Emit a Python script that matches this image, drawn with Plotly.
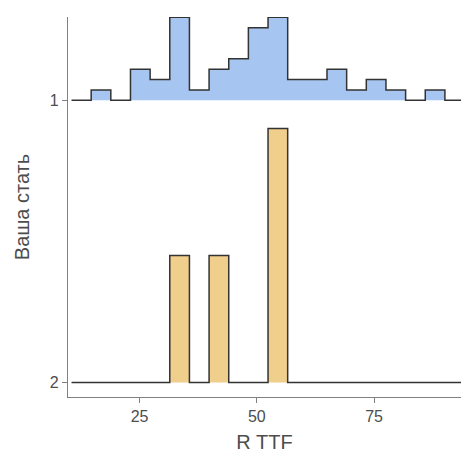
import plotly.graph_objects as go
import numpy as np

# Data
bin_start = 10.5
bin_width = 4.19
groups = ["1", "2"]
counts_1 = [0, 1, 0, 3, 2, 8, 1, 3, 4, 7, 8, 2, 2, 3, 1, 2, 1, 0, 1, 0, 0]
counts_2 = [0, 0, 0, 0, 0, 1, 0, 1, 0, 0, 2, 0, 0, 0, 0, 0, 0, 0, 0, 0, 0]
x_ticks = [25, 50, 75]

fills = {"1": "#A6C5F0", "2": "#F0CE8C"}
baselines = {"1": 1.0, "2": 0.0}
all_counts = {"1": counts_1, "2": counts_2}

nb = len(counts_1)
edges = bin_start + bin_width * np.arange(nb + 1)
dens = {g: np.array(c, float) / (sum(c) * bin_width) for g, c in all_counts.items()}
scale = 0.9 / max(d.max() for d in dens.values())

fig = go.Figure()
for g in groups:
    h = baselines[g] + dens[g] * scale
    xs, ys = [], []
    for i in range(nb):
        xs += [edges[i], edges[i + 1]]
        ys += [h[i], h[i]]
    # filled area (no outline)
    fig.add_trace(go.Scatter(
        x=[edges[0]] + xs + [edges[-1]],
        y=[baselines[g]] + ys + [baselines[g]],
        fill="toself", fillcolor=fills[g], mode="lines",
        line=dict(width=0, color=fills[g]), hoverinfo="skip", showlegend=False))
    # outline
    fig.add_trace(go.Scatter(
        x=xs, y=ys, mode="lines",
        line=dict(color="#333333", width=1.5),
        showlegend=False, hoverinfo="skip"))

FONT = "Liberation Sans, Arial"
axis_common = dict(
    showline=True, linecolor="#808080", linewidth=1.3,
    ticks="outside", ticklen=5, tickcolor="#808080", tickwidth=1.3,
    showgrid=False, zeroline=False,
    tickfont=dict(family=FONT, size=16, color="#4d4d4d"),
)

fig.update_layout(
    width=461, height=457,
    margin=dict(l=68, r=0, t=17, b=60),
    paper_bgcolor="white", plot_bgcolor="white",
    xaxis=dict(range=[9.75, 93.54], tickvals=x_ticks,
               title=dict(text="R TTF", standoff=10,
                          font=dict(family=FONT, size=20, color="#4d4d4d")),
               **axis_common),
    yaxis=dict(range=[-0.051, 1.295], tickvals=[0, 1], ticktext=["2", "1"],
               title=dict(text="Ваша стать", standoff=14,
                          font=dict(family=FONT, size=20, color="#4d4d4d")),
               **axis_common),
)

fig.write_html("out.html")
